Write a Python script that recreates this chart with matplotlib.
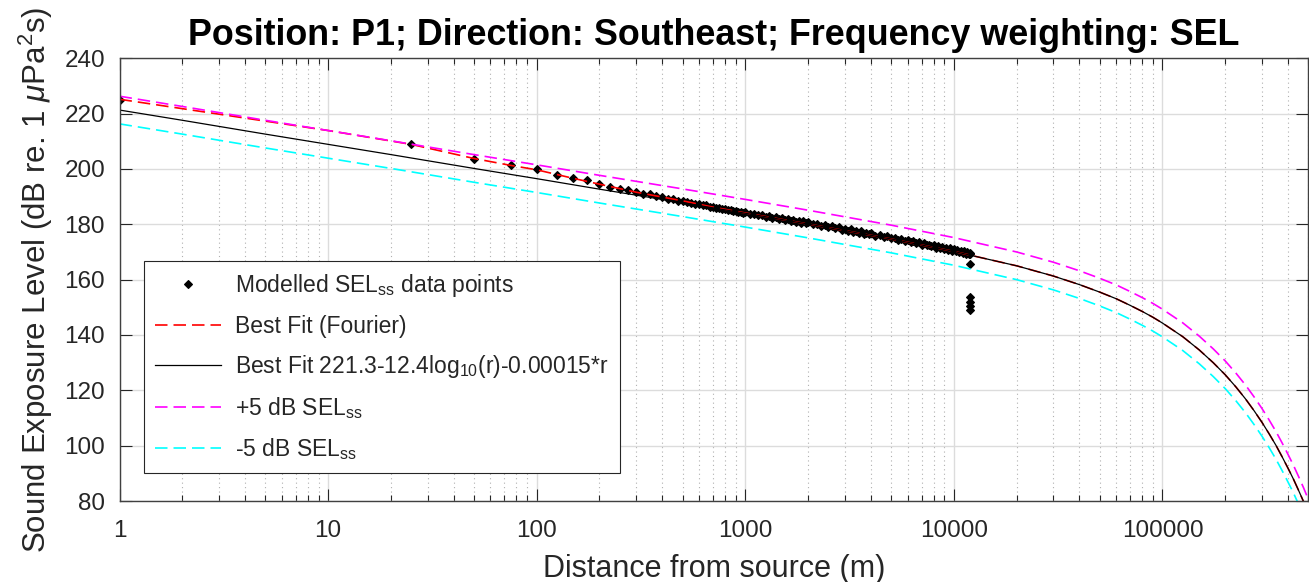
import matplotlib
matplotlib.use("Agg")
import matplotlib.pyplot as plt
from matplotlib.ticker import LogLocator, NullFormatter

plt.rcParams['font.family'] = ['Liberation Sans', 'DejaVu Sans']
plt.rcParams['mathtext.fontset'] = 'custom'
plt.rcParams['mathtext.rm'] = 'Liberation Sans'
plt.rcParams['mathtext.it'] = 'Liberation Sans:italic'
plt.rcParams['mathtext.bf'] = 'Liberation Sans:bold'

# modelled points, every 25 m out to 1 km
near_r = [1] + list(range(25, 1000, 25))
near_sel = [225.0, 208.9, 203.7, 201.4, 199.9, 197.9, 196.6, 195.9, 194.4, 193.6,
            192.6, 192.4, 191.8, 191.1, 190.8, 190.2, 189.9, 189.3, 189.1, 188.6,
            188.4, 187.9, 187.8, 187.4, 187.3, 186.8, 186.8, 186.4, 186.2, 185.9,
            185.9, 185.6, 185.4, 185.1, 185.1, 184.8, 184.7, 184.4, 184.4, 184.1]

# dense part of the modelled points (upper / lower edge of the band)
far_r_hi = [1000, 1100, 1200, 1300, 1400, 1500, 1600, 1700, 1800, 1900, 2000,
            2200, 2400, 2600, 2800, 3000, 3200, 3400, 3600, 3800, 4000,
            4400, 4800, 5200, 5600, 6000, 6400, 6800, 7200, 7600, 8000,
            8400, 8800, 9200, 9600, 10000, 10400, 10800, 11200, 11600, 12000]
far_sel_hi = [184.3, 183.8, 183.3, 183.0, 182.6, 182.2, 181.9, 181.6, 181.3, 181.1, 180.8,
              180.2, 179.7, 179.3, 178.9, 178.4, 178.2, 177.7, 177.5, 177.0, 176.8,
              176.2, 175.7, 175.1, 174.8, 174.3, 173.9, 173.5, 173.2, 172.7, 172.5,
              172.1, 171.9, 171.5, 171.3, 170.9, 170.7, 170.4, 170.2, 169.9, 169.7]
far_r_lo = [1050, 1150, 1250, 1350, 1450, 1550, 1650, 1750, 1850, 1950,
            2100, 2300, 2500, 2700, 2900, 3100, 3300, 3500, 3700, 3900,
            4200, 4600, 5000, 5400, 5800, 6200, 6600, 7000, 7400, 7800,
            8200, 8600, 9000, 9400, 9800, 10200, 10600, 11000, 11400, 11800, 12000]
far_sel_lo = [183.9, 183.4, 182.8, 182.4, 182.1, 181.6, 181.3, 181.0, 180.6, 180.3,
              180.0, 179.4, 178.9, 178.6, 178.0, 177.6, 177.4, 176.9, 176.6, 176.4,
              175.8, 175.3, 174.9, 174.3, 173.9, 173.5, 173.1, 172.7, 172.4, 172.0,
              171.6, 171.4, 171.0, 170.7, 170.5, 170.2, 169.9, 169.7, 169.4, 169.1, 169.2]

# stray points at the end of the modelled range
tail_r = [12000, 12000, 12000, 12000, 12000]
tail_sel = [165.8, 153.8, 152.0, 150.4, 149.0]

# fitted curves
curve_r = [1, 2, 5, 10, 20, 50, 100, 200, 500, 1000, 2000, 5000, 10000, 20000, 30000,
           40000, 50000, 60000, 70000, 80000, 90000, 100000, 125000, 150000, 175000,
           200000, 225000, 250000, 275000, 300000, 325000, 350000, 375000, 400000,
           425000, 450000, 475000, 500000]
fit_sel = [221.3, 217.6, 212.6, 208.9, 205.2, 200.2, 196.5, 192.7, 187.8, 184.0, 180.1,
           174.7, 170.2, 165.0, 161.3, 158.2, 155.5, 153.1, 150.7, 148.5, 146.4, 144.3,
           139.4, 134.6, 130.0, 125.6, 121.2, 116.9, 112.6, 108.4, 104.2, 100.1, 95.9,
           91.8, 87.8, 83.7, 79.7, 75.6]
plus5_sel = [226.3, 222.6, 217.6, 213.9, 210.2, 205.2, 201.5, 197.7, 192.8, 189.0, 185.1,
             179.7, 175.2, 170.0, 166.3, 163.2, 160.5, 158.1, 155.7, 153.5, 151.4, 149.3,
             144.4, 139.6, 135.0, 130.6, 126.2, 121.9, 117.6, 113.4, 109.2, 105.1, 100.9,
             96.8, 92.8, 88.7, 84.7, 80.6]
minus5_sel = [216.3, 212.6, 207.6, 203.9, 200.2, 195.2, 191.5, 187.7, 182.8, 179.0, 175.1,
              169.7, 165.2, 160.0, 156.3, 153.2, 150.5, 148.1, 145.7, 143.5, 141.4, 139.3,
              134.4, 129.6, 125.0, 120.6, 116.2, 111.9, 107.6, 103.4, 99.2, 95.1, 90.9,
              86.8, 82.8, 78.7, 74.7, 70.6]

fourier_r = [1, 2, 5, 10, 25, 50, 75, 100, 150, 200, 300, 500, 700, 1000, 2000, 5000,
             10000, 20000, 30000, 40000, 50000, 60000, 70000, 80000, 90000, 100000,
             125000, 150000, 175000, 200000, 225000, 250000, 275000, 300000, 325000,
             350000, 375000, 400000, 425000, 450000, 475000, 500000]
fourier_sel = [225.2, 221.8, 217.3, 213.9, 208.9, 203.8, 201.3, 199.7, 196.6, 194.5,
               191.6, 188.5, 186.2, 184.1, 180.1, 174.7, 170.2, 165.0, 161.3, 158.2,
               155.5, 153.1, 150.7, 148.5, 146.4, 144.3, 139.4, 134.6, 130.0, 125.6,
               121.2, 116.9, 112.6, 108.4, 104.2, 100.1, 95.9, 91.8, 87.8, 83.7, 79.7, 75.6]

xticks = [1, 10, 100, 1000, 10000, 100000]
xtick_labels = ['1', '10', '100', '1000', '10000', '100000']
yticks = [80, 100, 120, 140, 160, 180, 200, 220, 240]

dash = (7.5, 3.6)
grey = '#262626'

fig = plt.figure(figsize=(13.09, 5.82), dpi=100)
ax = fig.add_axes([119.5 / 1309, 81 / 582, 1188.8 / 1309, 442.7 / 582])

pt_style = dict(linestyle='none', marker='D', markersize=3.8, color='k',
                markeredgewidth=0.8)
ax.plot(near_r + far_r_hi + far_r_lo + tail_r,
        near_sel + far_sel_hi + far_sel_lo + tail_sel,
        label=r'Modelled SEL$_{\mathrm{ss}}$ data points', **pt_style)
ax.plot(fourier_r, fourier_sel, color='#ff0000', lw=1.2, linestyle='--', dashes=dash,
        label='Best Fit (Fourier)')
ax.plot(curve_r, fit_sel, color='k', lw=0.9,
        label=r'Best Fit 221.3-12.4log$_{10}$(r)-0.00015*r')
ax.plot(curve_r, plus5_sel, color='#ff00ff', lw=1.2, linestyle='--', dashes=dash,
        label=r'+5 dB SEL$_{\mathrm{ss}}$')
ax.plot(curve_r, minus5_sel, color='#00ffff', lw=1.2, linestyle='--', dashes=dash,
        label=r'-5 dB SEL$_{\mathrm{ss}}$')

ax.set_xscale('log')
ax.set_xlim(1, 5e5)
ax.set_ylim(80, 240)
ax.set_xticks(xticks)
ax.set_xticklabels(xtick_labels)
ax.xaxis.set_minor_locator(LogLocator(base=10, subs=range(2, 10), numticks=20))
ax.xaxis.set_minor_formatter(NullFormatter())
ax.set_yticks(yticks)

ax.grid(which='major', color='#dcdcdc', lw=1.0)
ax.grid(which='minor', axis='x', color='#b0b0b0', lw=0.8, linestyle=(0, (1, 3)))
ax.set_axisbelow(True)

ax.tick_params(which='both', direction='in', top=True, right=True, colors=grey)
ax.tick_params(which='major', length=8.6, width=0.8)
ax.tick_params(which='minor', length=4.3, width=0.8)
ax.tick_params(axis='x', which='major', labelsize=17.5, pad=14)
ax.tick_params(axis='y', which='major', labelsize=17.5, pad=10.4)
for s in ax.spines.values():
    s.set_color('#404040')
    s.set_linewidth(1.0)

ax.set_title('Position: P1; Direction: Southeast; Frequency weighting: SEL',
             fontsize=25.8, fontweight='bold', pad=9.5)
ax.set_xlabel('Distance from source (m)', fontsize=22, color=grey, labelpad=8)
ax.set_ylabel(r'Sound Exposure Level (dB re. 1 $\mu$Pa$^2$s)', fontsize=22.5, color=grey)
ax.yaxis.set_label_coords(-0.054, 0.5)

leg = ax.legend(loc='upper left', bbox_to_anchor=(0.0206, 0.5421), borderaxespad=0,
                fontsize=16.5, handlelength=2.85, handletextpad=0.6, borderpad=0.5,
                labelspacing=0.66, fancybox=False, framealpha=1, edgecolor=grey,
                numpoints=1)
leg.get_frame().set_linewidth(0.8)
for t in leg.get_texts():
    t.set_color(grey)

fig.savefig('out.png', dpi=100)
